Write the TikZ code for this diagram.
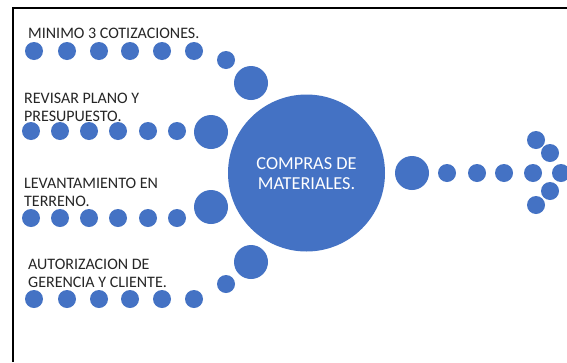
\documentclass[tikz,border=0pt]{standalone}
\usepackage{fontspec}
\setmainfont{Carlito}
\definecolor{offblue}{HTML}{4472C4}
\definecolor{labgray}{HTML}{262626}
\begin{document}
\begin{tikzpicture}[x=1pt,y=-1pt,
  dot/.style={circle,fill=offblue,draw=none,inner sep=0pt,minimum size=18pt},
  middot/.style={circle,fill=offblue,draw=none,inner sep=0pt,minimum size=34pt},
  hub/.style={circle,fill=offblue,draw=none,inner sep=0pt,minimum size=157pt},
  lab/.style={anchor=north west,inner sep=0pt,align=left,text=labgray,
    font=\fontsize{16}{18}\selectfont},
  hubtext/.style={inner sep=0pt,align=center,text=white,
    font=\fontsize{18.3}{20}\selectfont}]
\useasboundingbox (0,0) rectangle (567,362);
\fill[white] (0,0) rectangle (567,362);
% frame
\draw[line width=2.5pt] (13,362) -- (13,8) -- (567,8);
% hub
\node[hub] (hub) at (306.5,173) {};
\node[hubtext,anchor=north] (hubt) at (306.5,157) {COMPRAS DE\\MATERIALES.};
% row 1
\foreach \x [count=\i] in {34,67,99,130,162,194} \node[dot] (a\i) at (\x,51) {};
\node[dot] (a7) at (226,60) {};
\node[middot] (a8) at (251,83) {};
\node[lab] (la) at (28,28) {MINIMO 3 COTIZACIONES.};
% row 2
\foreach \x [count=\i] in {31,60,89,118,148,177} \node[dot] (b\i) at (\x,131) {};
\node[middot] (b7) at (211,132) {};
\node[lab] (lb) at (24,93) {REVISAR PLANO Y\\PRESUPUESTO.};
% row 3
\foreach \x [count=\i] in {31,60,89,118,148,177} \node[dot] (c\i) at (\x,218) {};
\node[middot] (c7) at (211,207) {};
\node[lab] (lc) at (24,177.5) {LEVANTAMIENTO EN\\TERRENO.};
% row 4
\foreach \x [count=\i] in {34,67,99,130,162,194} \node[dot] (d\i) at (\x,299) {};
\node[dot] (d7) at (226,284) {};
\node[middot] (d8) at (251,262) {};
\node[lab] (ld) at (28,259) {AUTORIZACION DE\\GERENCIA Y CLIENTE.};
% arrow
\node[middot] (e0) at (412,173) {};
\foreach \x [count=\i] in {447,477,504,533,561} \node[dot] (e\i) at (\x,173) {};
\node[dot] (f1) at (536,140) {};
\node[dot] (f2) at (550,153) {};
\node[dot] (f3) at (550,191) {};
\node[dot] (f4) at (536,205) {};
\end{tikzpicture}
\end{document}
